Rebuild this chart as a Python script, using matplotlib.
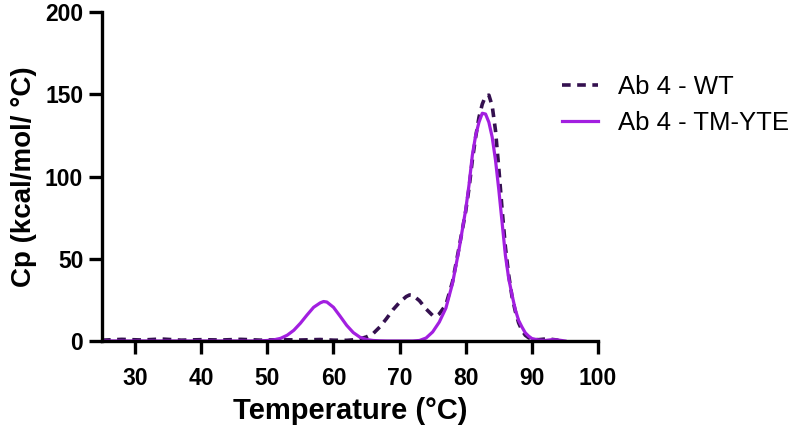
import matplotlib.pyplot as plt

plt.rcParams['font.family'] = ['Liberation Sans', 'DejaVu Sans']

# Ab 4 - WT
temp_wt = [25, 28, 31, 34, 37, 40, 43, 46, 49, 52, 55, 58, 60, 62, 63, 64, 65, 66, 67,
           68, 69, 70, 71, 71.5, 72, 73, 74, 75, 75.5, 76, 77, 78, 79, 80, 80.5, 81,
           81.5, 82, 82.5, 83, 83.5, 84, 84.5, 85, 85.5, 86, 86.5, 87, 87.5, 88, 88.5,
           89, 89.5, 90, 91, 92, 93, 94]
cp_wt = [0.5, 1.0, 0.6, 1.2, 0.5, 0.8, 0.6, 1.0, 0.5, 0.8, 0.6, 0.9, 0.5, 0.4, 0.7, 1.3,
         2.5, 4.5, 8.5, 13.5, 19, 23.5, 27, 28, 27.8, 24.5, 19.5, 15.5, 15, 16.5, 22,
         36, 57, 79, 93, 110, 124, 136, 144, 149, 149.5, 143, 128, 105, 80, 57, 40,
         27, 18, 11, 6.5, 3.5, 2, 1, 0.8, 1.2, 1.0, 0.5]

# Ab 4 - TM-YTE
temp_tm = [25, 30, 35, 40, 45, 48, 49, 50, 51, 52, 53, 54, 55, 56, 57, 58, 58.5, 59, 60,
           61, 62, 63, 64, 65, 66, 67, 68, 70, 72, 73, 74, 75, 76, 77, 78, 79, 80, 80.5,
           81, 81.5, 82, 82.5, 83, 83.5, 84, 84.5, 85, 85.5, 86, 86.5, 87, 87.5, 88,
           88.5, 89, 89.5, 90, 91, 92, 93, 94, 95]
cp_tm = [0, 0, 0, 0, 0, 0, 0.1, 0.3, 0.7, 1.6, 3.5, 6.5, 10.8, 15.8, 20.5, 23.2, 24,
         23.7, 20.5, 15.1, 9.5, 5.1, 2.3, 0.9, 0.3, 0.1, 0, 0, 0, 0.3, 1.8, 5.5, 11.5,
         20, 35, 56, 80, 95, 113, 125, 133, 138.5, 138, 133, 124, 110, 92, 72, 52,
         38, 28, 19, 12.5, 8.5, 5, 3, 1.5, 0.6, 0.3, 0.8, 0.6, 0]

fig = plt.figure(figsize=(8, 4.33), dpi=100)
ax = fig.add_axes([0.1275, 0.2125, 0.62, 0.7595])

ax.plot(temp_wt, cp_wt, color='#34104f', lw=2.6, dashes=(2.4, 1.8), label='Ab 4 - WT')
ax.plot(temp_tm, cp_tm, color='#a21fe0', lw=2.3, label='Ab 4 - TM-YTE')

ax.set_xlim(25, 100)
ax.set_ylim(0, 200)
ax.set_xticks(range(30, 101, 10))
ax.set_yticks(range(0, 201, 50))

for s in ['top', 'right']:
    ax.spines[s].set_visible(False)
for s in ['left', 'bottom']:
    ax.spines[s].set_linewidth(2.4)
ax.tick_params(width=2.4, length=9.5, labelsize=16.5)
ax.tick_params(axis='x', pad=9)
ax.tick_params(axis='y', pad=4)
for lab in ax.get_xticklabels() + ax.get_yticklabels():
    lab.set_fontweight('bold')

ax.set_xlabel('Temperature (°C)', fontsize=21, fontweight='bold', labelpad=5)
ax.set_ylabel('Cp (kcal/mol/ °C)', fontsize=20, fontweight='bold', labelpad=6)

ax.legend(loc='upper left', bbox_to_anchor=(0.702, 0.826), bbox_transform=fig.transFigure,
          frameon=False, fontsize=18.5, borderpad=0, borderaxespad=0,
          handlelength=1.4, labelspacing=0.45, handletextpad=0.8)

fig.savefig('out.png', dpi=100)
